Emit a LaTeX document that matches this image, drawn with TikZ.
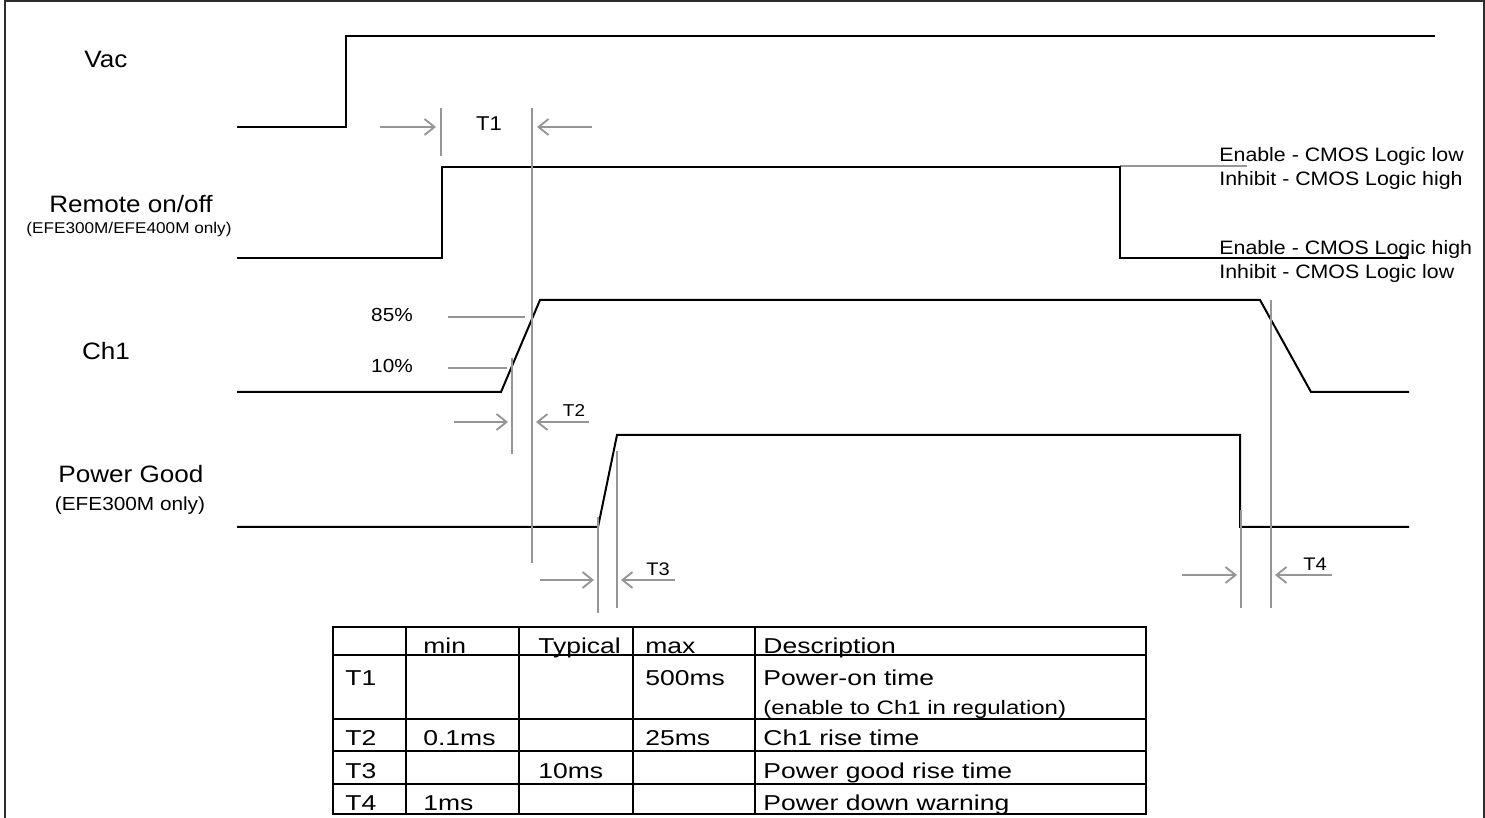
\documentclass[tikz,border=0pt]{standalone}
\usepackage{fontspec}
\setmainfont[FakeStretch=1.1]{Liberation Sans}
\newfontfamily\tabfont[FakeStretch=1.23]{Liberation Sans}
\usetikzlibrary{arrows.meta}
\definecolor{guide}{RGB}{150,150,150}
\definecolor{framec}{RGB}{45,45,45}
\tikzset{
  sig/.style={line width=1pt, black, line join=miter},
  guideline/.style={line width=0.95pt, guide},
  dimarrow/.style={guideline, -{Straight Barb[length=5pt,width=8pt,line width=0.95pt]}},
  lbl/.style={inner sep=0pt, anchor=base},
  lblw/.style={inner sep=0pt, anchor=base west},
  big/.style={font=\fontsize{11.86pt}{14pt}\selectfont},
  tsize/.style={font=\fontsize{#1}{#1}\selectfont},
  tab/.style={inner sep=0pt, anchor=base west, font=\tabfont\fontsize{10.77pt}{12pt}\selectfont},
  tabline/.style={line width=1pt, black},
}
\begin{document}
\begin{tikzpicture}[x=0.5pt,y=-0.5pt]
\useasboundingbox (0,0) rectangle (1485,818);
% frame
\draw[line width=1pt, framec] (5,818) -- (5,1) -- (1484,1) -- (1484,818);

% signal labels
\node[lbl,big] (vac) at (106,68) {Vac};
\node[lbl,big] (remote) at (131,213) {Remote on/off};
\node[lbl,tsize=7.8pt] (remotesub) at (129,234) {(EFE300M/EFE400M only)};
\node[lbl,big] (ch1) at (106,360) {Ch1};
\node[lbl,big] (pg) at (131,482) {Power Good};
\node[lbl,tsize=9.45pt] (pgsub) at (130,510) {(EFE300M only)};

% waveforms
\draw[sig] (237,127) -- (346,127) -- (346,36) -- (1435,36);
\draw[guideline] (1120,166) -- (1247,166);
\draw[sig] (237,258) -- (442,258) -- (442,167) -- (1120,167) -- (1120,258) -- (1408,258);
\draw[sig] (237,392) -- (501,392) -- (540,300) -- (1260,300) -- (1311,392) -- (1409,392);
\draw[sig] (237,527) -- (598,527) -- (617,435) -- (1240,435) -- (1240,527) -- (1409,527);

% right side texts
\node[lblw,tsize=9.7pt] (en1) at (1219,162) {Enable - CMOS Logic low};
\node[lblw,tsize=9.7pt] (in1) at (1219,186) {Inhibit - CMOS Logic high};
\node[lblw,tsize=9.7pt] (en2) at (1219,255) {Enable - CMOS Logic high};
\node[lblw,tsize=9.7pt] (in2) at (1219,279) {Inhibit - CMOS Logic low};

% T1
\draw[guideline] (441,108) -- (441,156);
\draw[guideline] (532,108) -- (532,563);
\draw[dimarrow] (380,127) -- (436,127);
\draw[dimarrow] (592,127) -- (537,127);
\node[lbl,tsize=10pt] (t1) at (489,131) {T1};

% percentages and T2
\draw[guideline] (448,317) -- (525,317);
\draw[guideline] (448,368) -- (507,368);
\node[lbl,tsize=9.45pt] (p85) at (392,322) {85\%};
\node[lbl,tsize=9.45pt] (p10) at (392,373) {10\%};
\draw[guideline] (512,358) -- (512,454);
\draw[dimarrow] (454,422) -- (508,422);
\draw[dimarrow] (589,422) -- (536,422);
\node[lbl,tsize=8.6pt] (t2) at (574,417) {T2};

% T3
\draw[guideline] (598,517) -- (598,613);
\draw[guideline] (617,451) -- (617,608);
\draw[dimarrow] (540,580) -- (594,580);
\draw[dimarrow] (675,580) -- (621,580);
\node[lbl,tsize=9.1pt] (t3) at (658,575) {T3};

% T4
\draw[guideline] (1241,510) -- (1241,608);
\draw[guideline] (1271,300) -- (1271,608);
\draw[dimarrow] (1182,575) -- (1237,575);
\draw[dimarrow] (1332,575) -- (1275,575);
\node[lbl,tsize=9.1pt] (t4) at (1315,570) {T4};

% table
\draw[tabline] (333,627) rectangle (1146,814);
\foreach \yy in {655,719,751,784} \draw[tabline] (333,\yy) -- (1146,\yy);
\foreach \xx in {406,519,633,755} \draw[tabline] (\xx,627) -- (\xx,814);

\node[tab] (hmin) at (423,653) {min};
\node[tab] (htyp) at (538,653) {Typical};
\node[tab] (hmax) at (645,653) {max};
\node[tab] (hdesc) at (763,653) {Description};

\node[tab] (r1) at (345,685) {T1};
\node[tab] (r1max) at (645,685) {500ms};
\node[tab] (r1desc) at (763,685) {Power-on time};
\node[tab,font=\tabfont\fontsize{9.75pt}{11pt}\selectfont] (r1desc2) at (763,714) {(enable to Ch1 in regulation)};

\node[tab] (r2) at (345,745) {T2};
\node[tab] (r2min) at (423,745) {0.1ms};
\node[tab] (r2max) at (645,745) {25ms};
\node[tab] (r2desc) at (763,745) {Ch1 rise time};

\node[tab] (r3) at (345,778) {T3};
\node[tab] (r3typ) at (538,778) {10ms};
\node[tab] (r3desc) at (763,778) {Power good rise time};

\node[tab] (r4) at (345,810) {T4};
\node[tab] (r4min) at (423,810) {1ms};
\node[tab] (r4desc) at (763,810) {Power down warning};
\end{tikzpicture}
\end{document}
